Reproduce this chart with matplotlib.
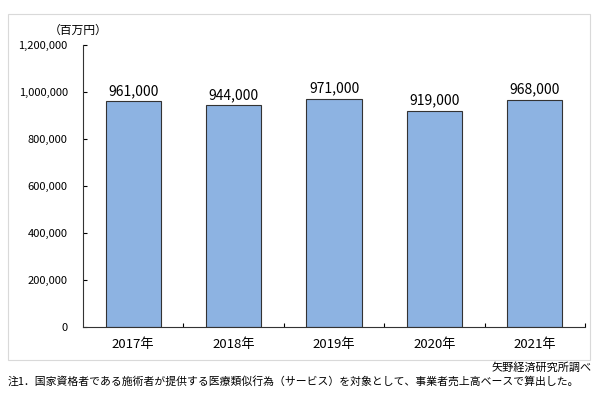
import matplotlib
matplotlib.use("Agg")
import matplotlib.pyplot as plt
from matplotlib.patches import Rectangle
from matplotlib.ticker import FuncFormatter

plt.rcParams["font.family"] = ["Noto Sans CJK JP", "DejaVu Sans"]

# Data
years = ["2017年", "2018年", "2019年", "2020年", "2021年"]
values = [961000, 944000, 971000, 919000, 968000]
yticks = [0, 200000, 400000, 600000, 800000, 1000000, 1200000]

fig = plt.figure(figsize=(6.0, 4.15), dpi=100)

# Outer chart frame
fig.patches.append(Rectangle((8 / 600, 1 - 360 / 415), 582 / 600, 346 / 415,
                             transform=fig.transFigure, fill=False,
                             edgecolor="#d9d9d9", linewidth=0.8))

ax = fig.add_axes([83 / 600, 1 - 327 / 415, 502 / 600, 282 / 415])
x = range(len(years))
ax.bar(x, values, width=0.55, color="#8db3e2", edgecolor="#333333",
       linewidth=0.8)

for i, v in enumerate(values):
    ax.text(i, v + 14000, f"{v:,}", ha="center", va="bottom", fontsize=10)

ax.set_xlim(-0.5, len(years) - 0.5)
ax.set_ylim(0, 1200000)
ax.set_yticks(yticks)
ax.yaxis.set_major_formatter(FuncFormatter(lambda v, p: f"{int(v):,}"))
ax.set_xticks(list(x))
ax.set_xticklabels(years)
ax.set_xticks([i + 0.5 for i in range(len(years))], minor=True)
ax.tick_params(axis="x", which="major", length=0, labelsize=9.5, pad=8)
ax.tick_params(axis="x", which="minor", direction="in", length=3, width=0.8)
ax.tick_params(axis="y", direction="in", length=3, width=0.8, labelsize=8,
               pad=11)

for side in ["top", "right"]:
    ax.spines[side].set_visible(False)
for side in ["left", "bottom"]:
    ax.spines[side].set_linewidth(0.8)
    ax.spines[side].set_color("#333333")

fig.text(78 / 600, 1 - 30 / 415, "（百万円）", ha="center", va="center",
         fontsize=8.5)
fig.text(592 / 600, 1 - 368 / 415, "矢野経済研究所調べ", ha="right",
         va="center", fontsize=8)
fig.text(8 / 600, 1 - 381 / 415,
         "注1．国家資格者である施術者が提供する医療類似行為（サービス）を対象として、事業者売上高ベースで算出した。",
         ha="left", va="center", fontsize=7.8)

fig.savefig("out.png", dpi=100)
